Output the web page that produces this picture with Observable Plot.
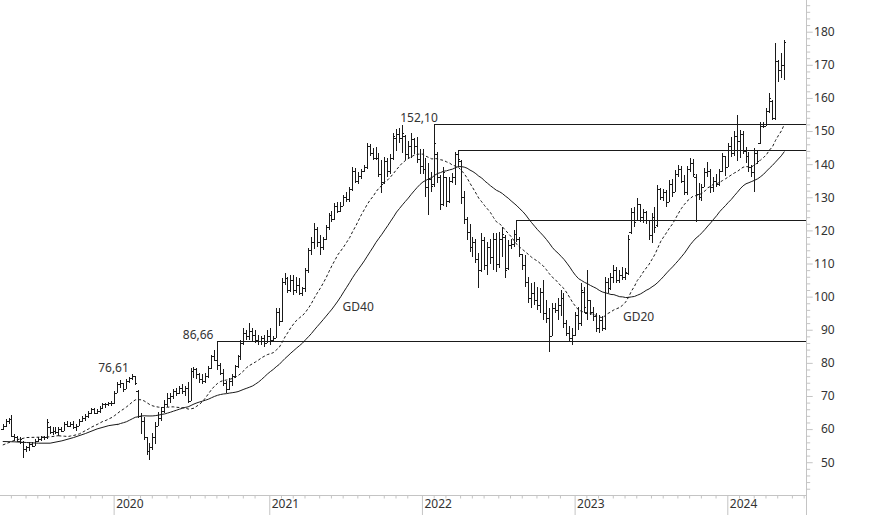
<!DOCTYPE html>
<html>
<head>
<meta charset="utf-8">
<script src="https://cdn.jsdelivr.net/npm/d3@7"></script>
<script src="https://cdn.jsdelivr.net/npm/@observablehq/plot@0.6"></script>
<style>
  html, body { margin: 0; padding: 0; background: #fff; }
  #chart svg { display: block; }
</style>
</head>
<body>
<div id="chart"></div>
<script>
// ---------- DATA (weekly bars, first bar = week of 2019-04-11) ----------
const FIRST_WEEK = "2019-04-11";

const highs = [
  // 2019
  61.5,63.0,63.5,64.2,58.5,58.0,57.5,56.5,55.0,56.0,56.0,57.0,57.5,58.0,58.0,63.0,61.0,60.5,60.5,60.5,60.5,62.0,62.3,62.0,62.5,61.5,63.0,64.0,64.5,65.5,66.5,66.5,66.0,67.0,67.8,68.0,68.3,68.5,
  // 2020
  71.5,74.3,74.8,74.0,75.0,75.8,76.61,76.0,71.9,65.0,63.8,57.5,55.7,58.8,62.0,65.3,66.6,68.9,70.9,71.0,72.0,72.5,73.0,73.5,73.0,74.3,78.5,78.9,78.5,77.0,76.5,77.0,79.0,82.5,84.0,86.66,80.0,78.0,74.5,75.5,76.5,79.5,82.5,87.0,90.4,90.0,91.9,90.4,90.0,88.4,88.0,88.4,90.0,
  // 2021
  90.4,88.0,96.5,96.5,105.5,107.0,106.0,106.5,106.5,106.0,105.5,103.0,108.5,114.8,118.0,122.1,121.0,118.5,118.0,121.5,125.2,126.0,128.2,128.7,128.5,130.7,131.5,133.2,139.2,138.7,137.5,138.5,139.8,146.3,146.0,145.0,145.3,143.3,141.3,142.3,142.0,143.0,149.3,150.5,150.8,151.8,148.8,147.0,149.3,148.0,148.3,144.5,
  // 2022
  144.5,142.0,140.3,137.5,152.1,143.8,136.7,139.2,136.2,136.2,137.2,143.8,144.2,141.3,132.0,124.0,122.0,118.1,117.5,113.1,119.1,118.0,116.5,117.5,119.1,119.1,119.5,121.1,118.5,117.1,117.5,120.0,123.2,118.1,113.0,112.6,106.0,104.0,104.5,103.0,102.5,105.0,99.0,96.5,98.0,98.0,99.5,102.0,101.0,93.0,91.0,90.5,
  // 2023
  95.5,97.0,104.0,103.0,108.0,99.0,97.0,95.0,94.5,94.0,106.0,105.5,107.0,109.6,109.0,108.0,109.0,108.5,118.6,126.7,127.2,129.7,128.0,126.5,126.0,123.2,125.2,127.2,133.7,132.7,132.5,132.2,135.2,135.5,138.2,139.8,139.5,136.7,139.5,141.8,141.5,137.0,134.2,134.0,138.7,140.8,138.5,136.0,137.0,138.5,143.3,142.5,
  // 2024
  146.3,148.3,150.0,154.9,150.3,150.0,145.3,143.8,139.8,144.8,144.3,152.8,152.8,156.9,161.4,159.4,176.5,171.5,173.5,177.5
];

const lows = [
  // 2019
  59.8,60.5,61.5,57.5,56.5,56.0,55.5,51.2,53.2,53.5,54.5,55.0,56.0,56.5,56.8,57.0,58.5,58.2,58.5,58.3,59.0,59.5,60.5,60.5,60.0,59.5,61.0,62.0,62.5,63.5,64.5,64.5,64.5,65.0,66.2,66.5,67.0,67.0,
  // 2020
  67.5,71.0,72.3,71.3,72.0,73.8,74.8,73.3,63.3,58.5,56.7,52.2,50.6,53.7,55.5,60.8,62.5,65.0,66.7,68.0,69.0,70.0,70.5,70.5,70.0,67.9,68.5,75.5,75.0,74.0,73.5,74.0,75.5,78.0,80.5,77.8,76.3,73.0,70.8,71.8,73.0,75.3,78.5,81.0,85.5,86.9,87.0,86.4,86.0,85.4,85.4,84.9,86.0,
  // 2021
  85.5,86.5,87.5,91.0,92.4,103.5,101.0,101.5,100.5,101.0,100.5,100.3,101.5,107.0,112.5,114.5,115.0,112.5,114.0,117.0,120.0,122.5,123.1,125.2,125.5,127.5,128.5,128.7,132.0,134.2,134.0,135.5,137.5,138.5,142.5,141.3,141.3,136.2,131.2,134.0,136.0,137.0,141.3,144.0,146.5,143.3,141.3,141.5,142.0,143.0,140.3,137.0,
  // 2022
  137.0,130.0,124.7,131.5,133.0,134.2,126.1,127.5,127.2,128.2,134.2,133.7,139.2,128.0,122.0,117.0,113.6,112.0,110.1,102.5,107.5,108.0,106.5,110.0,108.0,107.5,108.5,112.1,105.5,108.0,114.5,115.0,116.5,112.1,108.0,103.0,98.0,96.5,97.5,96.0,95.0,93.0,92.0,83.4,88.0,95.0,93.0,94.0,90.5,88.0,86.5,85.4,
  // 2023
  88.0,90.0,91.0,95.0,93.0,94.5,92.5,89.4,89.0,89.5,90.0,101.0,102.0,104.0,104.0,104.0,105.0,105.0,106.5,119.0,121.1,123.0,122.5,122.1,122.0,117.1,116.1,119.1,121.1,129.2,129.0,127.2,128.5,130.2,131.5,136.2,134.2,130.7,130.7,137.7,136.2,122.5,129.2,129.0,133.0,136.2,131.2,131.5,133.2,133.5,137.5,136.5,
  // 2024
  139.0,142.3,142.5,141.0,141.8,143.0,140.3,137.7,136.2,131.7,140.0,146.0,150.8,151.5,155.3,153.3,153.3,164.9,165.9,165.4
];

const opens = [
  // 2019
  60.0,61.0,62.5,63.0,58.0,57.5,56.5,56.0,54.0,54.5,55.5,55.0,56.5,57.0,57.5,57.5,60.5,59.0,59.5,59.0,60.0,59.5,61.5,61.0,61.5,60.5,61.0,62.5,63.5,64.0,65.0,66.0,65.0,65.5,66.5,67.5,67.5,68.0,
  // 2020
  68.0,71.0,73.5,74.0,72.0,74.5,75.5,76.0,71.5,64.0,62.5,57.5,53.5,54.5,57.5,61.0,63.5,65.5,67.5,69.5,70.0,71.5,71.0,72.5,71.5,72.5,68.5,77.5,78.0,76.5,75.0,74.5,76.0,78.5,82.0,81.0,79.5,77.0,74.0,72.0,74.5,76.0,79.0,82.0,86.0,89.0,88.0,89.5,88.5,87.0,86.5,87.5,86.0,
  // 2021
  88.0,87.0,87.5,95.5,92.5,104.5,105.5,102.0,105.0,102.0,103.5,101.0,102.5,108.0,114.0,116.5,120.5,116.5,115.0,117.5,121.0,124.5,123.5,127.5,126.0,127.5,130.0,129.5,132.5,138.0,135.0,136.5,138.0,139.0,145.5,143.5,142.0,142.0,137.0,134.5,141.0,138.0,142.0,148.0,149.0,148.0,148.5,143.0,145.5,147.5,145.5,141.5,
  // 2022
  139.5,138.5,133.0,135.5,134.0,143.0,136.0,128.0,136.0,129.0,135.0,136.0,143.0,141.0,130.0,123.5,119.5,115.0,116.5,111.5,108.0,117.0,109.5,115.0,112.0,117.5,110.0,117.5,118.0,108.5,115.5,116.0,119.0,117.5,113.0,109.5,104.5,99.5,101.0,99.0,97.5,101.5,95.0,93.5,88.0,96.5,96.0,97.5,99.5,92.0,89.0,87.5,
  // 2023
  88.5,94.5,92.0,101.5,95.0,99.0,95.5,94.0,90.5,93.0,90.5,104.5,102.5,106.0,108.0,105.0,106.5,106.0,107.0,119.5,125.5,123.0,128.0,124.0,125.5,123.0,118.5,124.0,121.5,132.5,130.0,131.5,128.5,134.0,131.5,137.0,138.5,135.0,131.5,138.5,140.5,136.0,131.0,130.0,133.0,137.5,138.0,133.0,135.0,134.0,138.0,142.5,
  // 2024
  139.0,145.5,143.5,148.5,147.0,149.0,144.0,142.5,139.0,137.5,143.5,146.5,151.5,151.5,156.0,159.0,154.0,171.0,168.5,170.0
];

const closes = [
  // 2019
  61.0,62.5,63.0,58.0,57.5,56.5,57.0,54.0,54.5,55.5,55.0,56.5,57.0,57.5,57.5,62.0,59.0,59.5,59.0,60.0,59.5,61.5,61.0,61.5,60.5,61.0,62.5,63.5,64.0,65.0,66.0,65.0,65.5,66.5,67.5,67.5,68.0,68.0,
  // 2020
  71.0,73.5,74.0,72.0,74.5,75.5,76.0,74.0,64.0,62.5,57.5,53.5,54.5,57.5,61.0,63.5,65.5,67.5,69.5,70.0,71.5,71.0,72.5,71.5,72.5,68.5,77.5,78.0,76.5,75.0,74.5,76.0,78.5,82.0,81.0,79.5,77.0,74.0,72.0,74.5,76.0,79.0,82.0,86.0,89.0,88.0,89.5,88.5,87.0,86.5,87.5,86.0,88.0,
  // 2021
  87.0,87.5,95.5,92.5,104.5,105.5,102.0,105.0,102.0,103.5,101.0,102.5,108.0,114.0,116.5,120.5,116.5,115.0,117.5,121.0,124.5,123.5,127.5,126.0,127.5,130.0,129.5,132.5,138.0,135.0,136.5,138.0,139.0,145.5,143.5,142.0,144.5,137.0,134.0,141.0,138.0,142.0,148.5,149.0,148.0,149.5,143.0,145.5,147.5,145.5,141.5,139.5,
  // 2022
  138.5,133.0,135.5,133.5,146.5,136.0,128.0,137.5,129.0,135.0,136.0,143.0,141.5,130.0,123.5,119.5,115.0,116.5,111.5,108.0,117.0,109.5,115.0,112.0,117.5,110.0,117.5,119.0,108.0,115.5,116.0,119.0,117.5,113.0,109.5,104.5,99.5,101.0,99.0,97.5,101.5,95.0,93.5,88.0,96.5,96.0,97.5,99.5,92.0,89.0,87.5,88.5,
  // 2023
  94.5,92.0,102.0,97.0,99.0,95.5,94.0,90.5,93.0,90.5,104.5,102.5,106.0,108.0,105.0,106.5,106.0,107.5,117.5,125.5,122.5,128.0,124.0,125.5,123.0,118.5,124.0,121.0,132.5,130.0,131.5,128.5,134.0,131.5,137.0,138.5,135.0,131.5,138.5,140.5,137.0,131.0,130.0,133.0,137.5,138.0,133.0,135.0,134.0,138.0,142.5,139.0,
  // 2024
  145.5,143.5,148.5,147.0,149.0,144.0,142.5,139.0,137.5,143.5,141.0,151.5,151.5,156.0,160.0,154.0,171.0,168.5,170.0,177.0
];

// moving averages before a full window is available
const gd20LeadWeek = [0, 4, 8, 12, 16, 19];
const gd20Lead     = [55.4, 56.8, 57.6, 57.7, 57.8, 58.2];
const gd40LeadWeek = [0, 4, 8, 12, 16, 20, 24, 28, 32, 36, 39];
const gd40Lead     = [56.4, 56.3, 56.1, 55.9, 55.9, 56.6, 57.6, 58.8, 60.2, 61.2, 61.6];

// annotated highs and horizontal resistance lines (week of the high)
const peakWeeks  = ["2020-02-13", "2020-09-03", "2022-02-03"];
const levelWeeks = ["2020-09-03", "2022-02-03", "2022-03-31", "2022-08-18"];

const yearLabels = ["2020", "2021", "2022", "2023", "2024"];
const priceTicks = [50, 60, 70, 80, 90, 100, 110, 120, 130, 140, 150, 160, 170, 180];
const maLabels = ["GD40", "GD20"];

// ---------- BUILD ----------
const ink = "#1a1a1a";
const axisGray = "#c4c4c4";
const textColor = "#333";

const bars = highs.map((h, k) => ({k, open: opens[k], high: h, low: lows[k], close: closes[k]}));
const t0 = new Date(FIRST_WEEK + "T00:00:00Z").getTime();
const WEEK = 7 * 864e5;
const weekIndex = s => Math.round((new Date(s + "T00:00:00Z").getTime() - t0) / WEEK);
const weekDate = k => new Date(t0 + k * WEEK);

const xMin = -0.9, xMax = 273.5;
const yMin = 40.1, yMax = 189.57;

// month / year ticks on the weekly index axis
const monthTicks = [], yearTicks = [];
for (let k = 1; k <= Math.ceil(xMax); k++) {
  const a = weekDate(k - 1), b = weekDate(k);
  if (a.getUTCMonth() !== b.getUTCMonth()) {
    const pos = k - 0.2;
    const yl = String(b.getUTCFullYear());
    if (b.getUTCMonth() === 0 && yearLabels.includes(yl)) yearTicks.push({pos, label: yl});
    else monthTicks.push(pos);
  }
}
const minorY = d3.range(42, 190, 2).filter(v => v % 10 !== 0);

const fmt = v => d3.format(".2f")(v).replace(".", ",");
const levels = levelWeeks.map(s => { const k = weekIndex(s); return {k, value: highs[k]}; });
const labelShift = {"2020-02-13": -3.5, "2020-09-03": -4, "2022-02-03": 3};
const peaks = peakWeeks.map(s => { const k = weekIndex(s); return {k, value: highs[k], label: fmt(highs[k]), s}; });

const gd20LeadData = gd20LeadWeek.map((k, j) => ({k, v: gd20Lead[j]}));
const gd40LeadData = gd40LeadWeek.map((k, j) => ({k, v: gd40Lead[j]}));
const maLabelData = [
  {text: maLabels[0], k: 120.9, v: 97.0},
  {text: maLabels[1], k: 216.4, v: 93.9}
];

const crisp = {shapeRendering: "crispEdges"};

const chart = Plot.plot({
  width: 874,
  height: 515,
  marginLeft: 0,
  marginRight: 68.3,
  marginTop: 0,
  marginBottom: 20,
  x: {domain: [xMin, xMax]},
  y: {domain: [yMin, yMax], label: null},
  style: {fontFamily: "'Noto Sans', sans-serif", fontSize: "12px", color: textColor, background: "#fff"},
  marks: [
    // axes frame lines
    Plot.ruleY([yMin], {stroke: axisGray, ...crisp}),
    Plot.ruleX([xMax], {stroke: axisGray, insetBottom: -20, ...crisp}),
    Plot.axisY(minorY, {anchor: "right", tickSize: 3.5, tickFormat: () => "", stroke: axisGray, label: null}),
    Plot.axisY(priceTicks, {anchor: "right", tickSize: 6, tickFormat: () => "", stroke: axisGray, label: null}),
    Plot.text(priceTicks, {y: d => d, text: d => String(d), frameAnchor: "right", dx: 28.5, textAnchor: "end", fill: textColor}),
    Plot.axisX(monthTicks, {anchor: "bottom", tickSize: 3.5, tickFormat: () => "", stroke: axisGray, label: null}),
    Plot.axisX(yearTicks.map(d => d.pos), {anchor: "bottom", tickSize: 20, tickFormat: () => "", stroke: axisGray, label: null}),
    Plot.text(yearTicks, {x: "pos", text: "label", frameAnchor: "bottom", dy: 12, dx: 2, textAnchor: "start", fill: textColor}),

    // resistance lines
    Plot.ruleY(levels, {y: "value", x1: "k", x2: xMax, stroke: ink, ...crisp}),

    // moving averages
    Plot.line(gd40LeadData, {x: "k", y: "v", stroke: ink, strokeWidth: 1}),
    Plot.lineY(bars, Plot.windowY({k: 40, anchor: "end", strict: true}, {x: "k", y: "close", stroke: ink, strokeWidth: 1})),
    Plot.line(gd20LeadData, {x: "k", y: "v", stroke: ink, strokeWidth: 1, strokeDasharray: "2,3"}),
    Plot.lineY(bars, Plot.windowY({k: 20, anchor: "end", strict: true}, {x: "k", y: "close", stroke: ink, strokeWidth: 1, strokeDasharray: "2,3"})),

    // OHLC bars
    Plot.ruleX(bars, {x: "k", y1: "low", y2: "high", stroke: ink, ...crisp}),
    Plot.ruleY(bars, {y: "open", x1: d => d.k - 0.65, x2: "k", stroke: ink, ...crisp}),
    Plot.ruleY(bars, {y: "close", x1: "k", x2: d => d.k + 0.65, stroke: ink, ...crisp}),

    // labels
    ...peaks.map(p => Plot.text([p], {x: "k", y: "value", text: "label", textAnchor: "end", dx: labelShift[p.s], dy: -6, fill: textColor})),
    Plot.text(maLabelData, {x: "k", y: "v", text: "text", fill: textColor})
  ]
});

document.getElementById("chart").append(chart);
</script>
</body>
</html>
